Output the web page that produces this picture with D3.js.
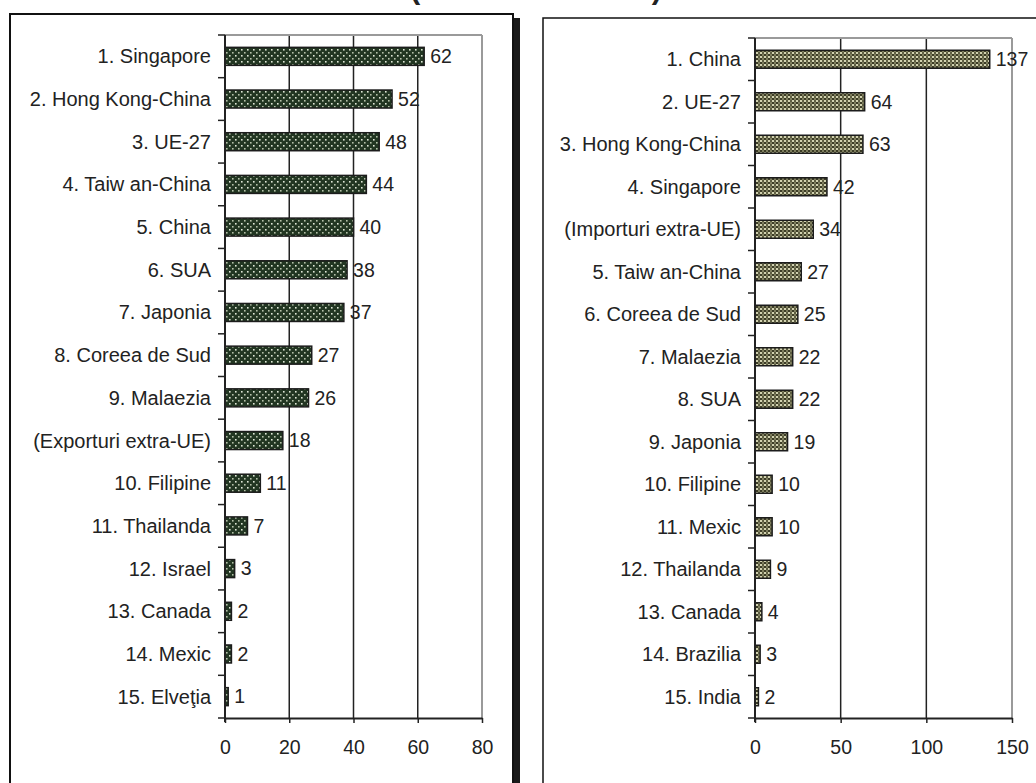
<!DOCTYPE html>
<html>
<head>
<meta charset="utf-8">
<script src="https://cdn.jsdelivr.net/npm/d3@7"></script>
<style>
  html, body { margin: 0; padding: 0; background: #fff; }
  svg { display: block; }
  text { font-family: "Liberation Sans", Arial, sans-serif; fill: #222; }
</style>
</head>
<body>
<svg id="chart" width="1036" height="783"></svg>
<script>
// Exporters (left panel)
const exportCategories = [
  "1. Singapore", "2. Hong Kong-China", "3. UE-27", "4. Taiw an-China", "5. China",
  "6. SUA", "7. Japonia", "8. Coreea de Sud", "9. Malaezia", "(Exporturi extra-UE)",
  "10. Filipine", "11. Thailanda", "12. Israel", "13. Canada", "14. Mexic", "15. Elveţia"
];
const exportValues = [62, 52, 48, 44, 40, 38, 37, 27, 26, 18, 11, 7, 3, 2, 2, 1];
const exportTicks = [0, 20, 40, 60, 80];

// Importers (right panel)
const importCategories = [
  "1. China", "2. UE-27", "3. Hong Kong-China", "4. Singapore", "(Importuri extra-UE)",
  "5. Taiw an-China", "6. Coreea de Sud", "7. Malaezia", "8. SUA", "9. Japonia",
  "10. Filipine", "11. Mexic", "12. Thailanda", "13. Canada", "14. Brazilia", "15. India"
];
const importValues = [137, 64, 63, 42, 34, 27, 25, 22, 22, 19, 10, 10, 9, 4, 3, 2];
const importTicks = [0, 50, 100, 150];

const titleText = "(miliarde de euro)";

const svg = d3.select("#chart");
svg.append("rect").attr("width", 1036).attr("height", 783).attr("fill", "#fff");

// Bar fill patterns
const defs = svg.append("defs");
const pg = defs.append("pattern").attr("id", "dotsGreen")
  .attr("patternUnits", "userSpaceOnUse").attr("width", 6).attr("height", 6);
pg.append("rect").attr("width", 6).attr("height", 6).attr("fill", "#223622");
pg.append("rect").attr("x", 1).attr("y", 1).attr("width", 1.6).attr("height", 1.6).attr("fill", "#dfe6d6");
pg.append("rect").attr("x", 4).attr("y", 4).attr("width", 1.6).attr("height", 1.6).attr("fill", "#b4c0a8");

const po = defs.append("pattern").attr("id", "gridOlive")
  .attr("patternUnits", "userSpaceOnUse").attr("width", 4).attr("height", 4);
po.append("rect").attr("width", 4).attr("height", 4).attr("fill", "#3c3c26");
po.append("rect").attr("x", 0).attr("y", 0).attr("width", 2).attr("height", 2).attr("fill", "#d2d2b0");
po.append("rect").attr("x", 2).attr("y", 2).attr("width", 2).attr("height", 2).attr("fill", "#7e7e5e");
po.append("rect").attr("x", 2).attr("y", 0).attr("width", 2).attr("height", 2).attr("fill", "#5e5e42");

// Figure title: only the lowest part of its line falls inside the page
svg.append("text")
  .attr("x", 536).attr("y", -1)
  .attr("text-anchor", "middle")
  .attr("font-size", 30).attr("font-weight", "bold")
  .text(titleText);

// Panel frames
svg.append("rect").attr("x", 514).attr("y", 18).attr("width", 6).attr("height", 780).attr("fill", "#1a1a1a");
svg.append("rect").attr("x", 10).attr("y", 14).attr("width", 503).attr("height", 790)
  .attr("fill", "none").attr("stroke", "#111").attr("stroke-width", 2);
svg.append("rect").attr("x", 543).attr("y", 18).attr("width", 520).attr("height", 790)
  .attr("fill", "none").attr("stroke", "#111").attr("stroke-width", 1.5);

function drawPanel(opts) {
  const { categories, values, ticks, x0, x1, top, bottom, fill } = opts;
  const g = svg.append("g");

  const x = d3.scaleLinear().domain([ticks[0], ticks[ticks.length - 1]]).range([x0, x1]);
  const y = d3.scaleBand().domain(categories).range([top, bottom]).paddingInner(0).paddingOuter(0);
  const barH = 18;

  // Vertical gridlines (inner) and the grey plot border
  g.selectAll(".grid").data(ticks.slice(1, -1)).join("line")
    .attr("x1", d => x(d)).attr("x2", d => x(d))
    .attr("y1", top).attr("y2", bottom)
    .attr("stroke", "#222").attr("stroke-width", 1.5);
  g.append("line")
    .attr("x1", x(ticks[ticks.length - 1])).attr("x2", x(ticks[ticks.length - 1]))
    .attr("y1", top).attr("y2", bottom)
    .attr("stroke", "#9a9a9a").attr("stroke-width", 2);
  g.append("line")
    .attr("x1", x0).attr("x2", x1).attr("y1", top).attr("y2", top)
    .attr("stroke", "#9a9a9a").attr("stroke-width", 2);

  // Bars
  g.selectAll(".bar").data(values).join("rect")
    .attr("x", x(0))
    .attr("y", (d, i) => y(categories[i]) + (y.bandwidth() - barH) / 2)
    .attr("width", d => x(d) - x(0))
    .attr("height", barH)
    .attr("fill", fill)
    .attr("stroke", "#1c1c1c").attr("stroke-width", 1.5);

  // Value labels
  g.selectAll(".val").data(values).join("text")
    .attr("x", d => x(d) + 6)
    .attr("y", (d, i) => y(categories[i]) + y.bandwidth() / 2)
    .attr("dy", "0.35em")
    .attr("font-size", 19.5)
    .text(d => d);

  // Category axis: line, boundary ticks, labels
  g.append("line")
    .attr("x1", x(0)).attr("x2", x(0)).attr("y1", top).attr("y2", bottom + 4)
    .attr("stroke", "#222").attr("stroke-width", 2);
  const bounds = d3.range(categories.length + 1).map(i => top + i * y.step());
  g.selectAll(".ytick").data(bounds).join("line")
    .attr("x1", x(0) - 7).attr("x2", x(0))
    .attr("y1", d => d).attr("y2", d => d)
    .attr("stroke", "#222").attr("stroke-width", 1.5);
  g.selectAll(".cat").data(categories).join("text")
    .attr("x", x(0) - 14)
    .attr("y", d => y(d) + y.bandwidth() / 2)
    .attr("dy", "0.35em")
    .attr("text-anchor", "end")
    .attr("font-size", 20)
    .text(d => d);

  // Value axis
  const axis = g.append("g")
    .attr("transform", `translate(0,${bottom})`)
    .call(d3.axisBottom(x).tickValues(ticks).tickSize(5).tickPadding(17).tickSizeOuter(0));
  axis.select(".domain").attr("stroke", "#222").attr("stroke-width", 2);
  axis.selectAll(".tick line").attr("stroke", "#222").attr("stroke-width", 1.5);
  axis.selectAll(".tick text")
    .attr("font-size", 19.5)
    .attr("font-family", "Liberation Sans, Arial, sans-serif")
    .attr("fill", "#222");
}

drawPanel({
  categories: exportCategories, values: exportValues, ticks: exportTicks,
  x0: 225, x1: 482, top: 35, bottom: 718, fill: "url(#dotsGreen)"
});
drawPanel({
  categories: importCategories, values: importValues, ticks: importTicks,
  x0: 755, x1: 1012, top: 38, bottom: 718, fill: "url(#gridOlive)"
});
</script>
</body>
</html>
